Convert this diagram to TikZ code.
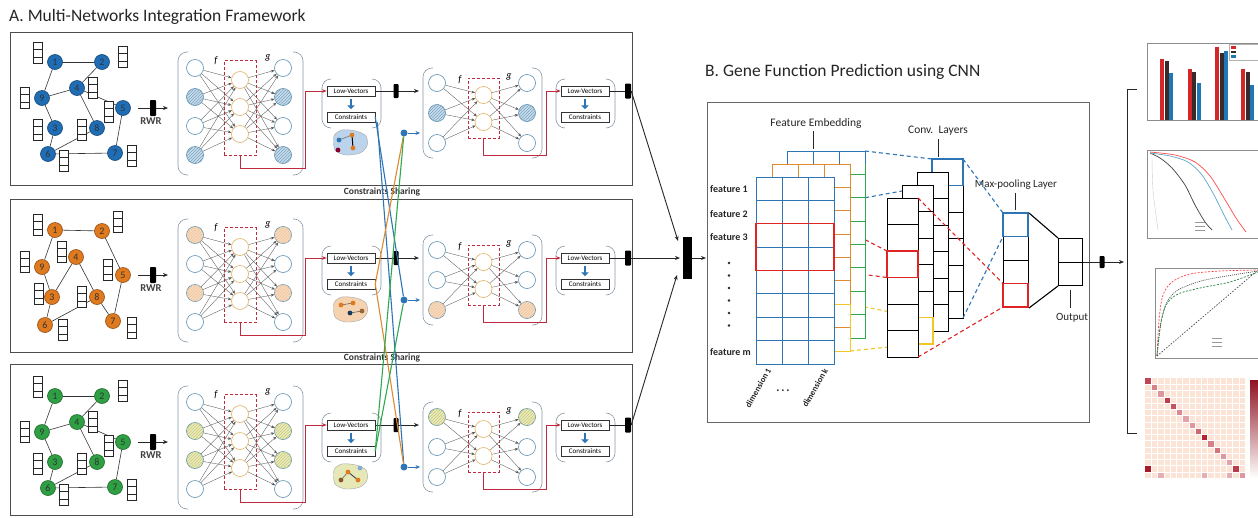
\documentclass[tikz,border=0pt]{standalone}
\usepackage{fontspec}
\setmainfont{Carlito}
\usetikzlibrary{arrows.meta,patterns}
\definecolor{nblue}{HTML}{1F6DB5}
\definecolor{norange}{HTML}{E07A1F}
\definecolor{ngreen}{HTML}{2EA043}
\definecolor{aeb}{HTML}{5A8FB0}
\definecolor{hido}{HTML}{E0B060}
\definecolor{dred}{HTML}{C02A3E}
\definecolor{parc}{HTML}{8A98A8}
\definecolor{cblue}{HTML}{2E75B6}
\definecolor{corange}{HTML}{E08A30}
\definecolor{cgreen}{HTML}{2FA84F}
\definecolor{cred}{HTML}{E02424}
\definecolor{cyellow}{HTML}{F2C624}
\definecolor{tintb}{HTML}{C9DCEB}
\definecolor{tinto}{HTML}{F7DCC0}
\definecolor{tintg}{HTML}{E9EAC6}
\definecolor{blobb}{HTML}{BCD3EC}
\definecolor{bloba}{HTML}{F5D2B0}
\definecolor{blobg}{HTML}{E6E8B8}
\definecolor{barred}{HTML}{D62728}
\definecolor{bardark}{HTML}{3B2A2A}
\definecolor{barblue}{HTML}{1F77B4}
\definecolor{hm}{HTML}{B2182B}
\definecolor{hmbg}{HTML}{FBE3D6}

\tikzset{
  gnode/.style={circle, minimum size=15pt, inner sep=0pt, line width=0.6pt, font=\fontsize{10}{10}\selectfont, text=black!80},
  vbx/.style={draw=black!85, line width=0.7pt, fill=white, minimum width=9pt, minimum height=21pt, inner sep=0pt},
  gedge/.style={black!80, line width=0.6pt},
  aew/.style={circle, draw=aeb, line width=0.6pt, fill=white, minimum size=17pt, inner sep=0pt},
  aehb/.style={aew, fill=tintb, postaction={pattern=north east lines, pattern color=aeb!80}},
  aeho/.style={aew, fill=tinto, postaction={pattern=north east lines, pattern color=norange!45}},
  aehg/.style={aew, fill=tintg, postaction={pattern=north east lines, pattern color=olive!40}},
  hid/.style={circle, draw=hido, line width=0.6pt, fill=white, minimum size=17pt, inner sep=0pt},
  hidrect/.style={draw=dred, dash pattern=on 3pt off 2pt, line width=0.9pt, inner sep=0pt},
  aearr/.style={black!65, line width=0.35pt, -{Stealth[length=3.5pt,width=2.8pt]}},
  paren/.style={parc, line width=0.6pt, rounded corners=9pt},
  redconn/.style={dred, line width=0.9pt, -{Stealth[length=4.5pt,width=3.5pt]}},
  lvbox/.style={draw=black!80, line width=0.5pt, fill=white, minimum width=48pt, minimum height=10pt, inner sep=0pt, font=\fontsize{7}{7}\selectfont},
  blk/.style={fill=black, minimum width=5pt, minimum height=14pt, inner sep=0pt, rounded corners=0.8pt},
  barr/.style={black!85, line width=0.9pt, -{Stealth[length=5pt,width=4pt]}},
  dotn/.style={circle, fill=cblue, minimum size=7pt, inner sep=0pt},
  lbl/.style={font=\fontsize{10}{10}\selectfont\itshape, inner sep=0pt},
  share/.style={line width=1.1pt},
  sharelbl/.style={font=\fontsize{9.5}{10}\selectfont\bfseries, text=black!80},
  frame/.style={draw=black!70, line width=0.9pt},
  dsh/.style={dash pattern=on 4pt off 3pt, line width=1.1pt},
  flbl/.style={font=\fontsize{10}{10}\selectfont\bfseries, text=black!85, anchor=west, inner sep=0pt},
  clbl/.style={font=\fontsize{11.5}{12}\selectfont, text=black!85},
  tickl/.style={black!85, line width=0.9pt},
  gridl/.style={line width=1pt},
  dimlbl/.style={font=\fontsize{8.5}{9}\selectfont\bfseries, text=black!85, rotate=60, anchor=east, inner sep=0pt},
}

\newcommand\vecb[3]{%
  \node[vbx] (#1) at (#2,#3) {};
  \draw[black!85, line width=0.5pt] ([yshift=-7pt]#1.north west) -- ([yshift=-7pt]#1.north east)
        ([yshift=7pt]#1.south west) -- ([yshift=7pt]#1.south east);}

\newcommand\AEfour[4]{%
\begin{scope}[shift={(0,#2)}]
  \draw[paren] (188,52) -- (178,52) -- (178,175) -- (188,175);
  \draw[paren] (293,52) -- (303,52) -- (303,175) -- (293,175);
  \node[hidrect, minimum width=32pt, minimum height=95pt] (#1hr) at (240,108) {};
  \foreach \yy/\st [count=\k] in {#3} \node[\st] (#1i\k) at (195,\yy) {};
  \foreach \yy/\st [count=\k] in {#4} \node[\st] (#1o\k) at (283,\yy) {};
  \foreach \yy [count=\k] in {80,107,134} \node[hid] (#1h\k) at (240,\yy) {};
  \foreach \ia in {1,...,4}{\foreach \ib in {1,2,3}{
     \draw[aearr] (#1i\ia) -- (#1h\ib);
     \draw[aearr] (#1h\ib) -- (#1o\ia);}}
  \node[lbl] (#1f) at (216,61) {f};
  \node[lbl] (#1g) at (268,58) {g};
  \coordinate (#1rc) at (305,168);
\end{scope}}

\newcommand\AEthree[4]{%
\begin{scope}[shift={(0,#2)}]
  \draw[paren] (433,68) -- (423,68) -- (423,158) -- (433,158);
  \draw[paren] (532,68) -- (542,68) -- (542,158) -- (532,158);
  \node[hidrect, minimum width=31pt, minimum height=60pt] (#1hr) at (483.5,108) {};
  \foreach \yy/\st [count=\k] in {#3} \node[\st] (#1i\k) at (437,\yy) {};
  \foreach \yy/\st [count=\k] in {#4} \node[\st] (#1o\k) at (527,\yy) {};
  \foreach \yy [count=\k] in {95,122} \node[hid] (#1h\k) at (483.5,\yy) {};
  \foreach \ia in {1,2,3}{\foreach \ib in {1,2}{
     \draw[aearr] (#1i\ia) -- (#1h\ib);
     \draw[aearr] (#1h\ib) -- (#1o\ia);}}
  \node[lbl] (#1f) at (460,80) {f};
  \node[lbl] (#1g) at (509,77) {g};
  \coordinate (#1rc) at (546,155);
\end{scope}}

\newcommand\LVgroup[3]{%
\begin{scope}[shift={(0,#2)}]
  \draw[paren] (#3-20,79) -- (#3-29,79) -- (#3-29,128) -- (#3-20,128);
  \draw[paren] (#3+21,79) -- (#3+30,79) -- (#3+30,128) -- (#3+21,128);
  \node[lvbox] (#1lv) at (#3,91) {Low-Vectors};
  \node[lvbox] (#1cs) at (#3,117) {Constraints};
  \draw[cblue, line width=2.8pt, -{Triangle[length=4pt,width=7.5pt]}] ([yshift=-2.5pt]#1lv.south) -- ([yshift=2.5pt]#1cs.north);
\end{scope}}

\newcommand\panelcore[8]{%
\begin{scope}[shift={(0,#2)}]
  \coordinate (#1r0) at (138,108);
  \coordinate (#1r1) at (168,108);
  \draw[barr] (#1r0) -- (#1r1);
  \node[blk, minimum width=6pt, minimum height=16pt] (#1rb) at (153,108) {};
  \node[font=\fontsize{10.5}{11}\selectfont\bfseries, text=black!75] (#1rl) at (151,121) {RWR};
  \coordinate (#1bin) at (419,91);
  \node[dotn] (#1dot) at (404,133) {};
  \coordinate (#1dotend) at (420,133);
  \draw[cblue, line width=0.9pt, -{Stealth[length=4.5pt,width=4pt]}] (#1dot.east) -- (#1dotend);
  \draw[fill=#7, draw=black!35, line width=0.4pt] plot[smooth cycle] coordinates {(334,136) (342,130) (356,131) (366,136) (367,146) (360,153) (346,155) (335,150)};
  #8
\end{scope}
\AEfour{#1a}{#2}{#3}{#4}
\LVgroup{#1p}{#2}{351}
\AEthree{#1b}{#2}{#5}{#6}
\LVgroup{#1q}{#2}{585}
\draw[redconn] (#1ahr.south) |- (#1arc) |- (#1plv.west);
\draw[redconn] (#1bhr.south) |- (#1brc) |- (#1qlv.west);
\draw[barr] (#1plv.east) -- (#1bin);
\node[blk] (#1pb) at (396,#2+91) {};
\node[blk, minimum width=6pt, minimum height=15pt] (#1out) at (628,#2+91) {};
\draw[black!85, line width=0.9pt] (#1qlv.east) -- (#1out.west);
}

\newcommand\netA[3]{%
\begin{scope}[shift={(0,#2)}]
\foreach \n/\px/\py in {1/55/62,2/102/62,4/77/88,9/42/98,5/123/108,3/55/128,8/97/128,6/48/154,7/115/153}
  \node[gnode, fill=#3, draw=#3!65!black] (#1n\n) at (\px,\py) {\n};
\foreach \ua/\ub in {1/2,1/9,2/4,9/4,4/5,4/8,5/7,9/3,3/6,6/8,6/7}
  \draw[gedge] (#1n\ua) -- (#1n\ub);
\foreach \k/\px/\py in {1/38/53,2/123/57,4/93/88,9/25/98,5/109/112,3/38/130,8/82/130,6/64/161,7/132/156}
  {\vecb{#1v\k}{\px}{\py}}
\end{scope}}

\newcommand\netB[3]{%
\begin{scope}[shift={(0,#2)}]
\foreach \n/\px/\py in {1/55/63,2/102/64,4/76/90,9/42/100,5/123/108,3/52/130,8/97/130,6/45/158,7/113/154}
  \node[gnode, fill=#3, draw=#3!65!black] (#1n\n) at (\px,\py) {\n};
\foreach \ua/\ub in {1/2,1/9,9/3,3/4,4/8,2/5,5/7,8/7,3/6,6/8}
  \draw[gedge] (#1n\ua) -- (#1n\ub);
\foreach \k/\px/\py in {1/38/58,2/118/55,4/62/85,9/25/95,5/108/103,3/39/127,8/82/130,6/63/163,7/132/161}
  {\vecb{#1v\k}{\px}{\py}}
\end{scope}}

\newcommand\fgrid[4]{%
  \node[draw=#3, gridl, fill=white, minimum width=78pt, minimum height=187pt, inner sep=0pt, anchor=north west] (#4) at (#1,#2) {};
  \foreach \c in {1,2} \draw[#3, gridl] (#1+26*\c,#2) -- (#1+26*\c,#2+187);
  \foreach \r in {1,...,7} \draw[#3, gridl] (#1,#2+23.375*\r) -- (#1+78,#2+23.375*\r);}

\newcommand\clayer[3]{%
  \node[draw=black, gridl, fill=white, minimum width=31pt, minimum height=159pt, inner sep=0pt, anchor=north west] (#3) at (#1,#2) {};
  \foreach \r in {1,...,5} \draw[black, gridl] (#1,#2+26.5*\r) -- (#1+31,#2+26.5*\r);}

\begin{document}
\begin{tikzpicture}[x=1pt,y=-1pt]
\fill[white] (0,0) rectangle (1258,517);
\useasboundingbox (0,0) rectangle (1258,517);

% ---------- Panel A ----------
\node[font=\fontsize{17.5}{18}\selectfont, anchor=west, inner sep=0pt, text=black!85] (titleA) at (9,17) {A. Multi-Networks Integration Framework};
\draw[frame] (10,32) rectangle (632,185);
\draw[frame] (10,199) rectangle (632,352);
\draw[frame] (10,364) rectangle (632,515);
\node[sharelbl] (cs1) at (382,192) {Constraints Sharing};
\node[sharelbl] (cs2) at (382,358) {Constraints Sharing};

\netA{ga}{0}{nblue}
\netB{gb}{167}{norange}
\netA{gc}{334}{ngreen}

\panelcore{pa}{0}{68/aew,97/aehb,126/aew,155/aehb}{68/aew,97/aehb,126/aew,155/aehb}{83/aew,113/aehb,143/aew}{83/aew,113/aehb,143/aew}{blobb}{%
  \draw[black!60, line width=0.5pt] (339,140) -- (352,135);
  \draw[black, line width=1pt] (352,135) -- (353,148);
  \fill[cblue] (339,140) circle (2.4);
  \fill[norange] (352,135) circle (2.4);
  \fill[norange] (353,148) circle (2.4);
  \fill[purple!70!black] (338,150) circle (2.4);}
\panelcore{pb}{167}{68/aeho,97/aew,126/aeho,155/aew}{68/aeho,97/aew,126/aeho,155/aew}{83/aew,113/aew,143/aeho}{83/aew,113/aew,143/aeho}{bloba}{%
  \draw[black!60, line width=0.6pt] (341,138) -- (353,136);
  \draw[black!60, line width=0.6pt] (350,146) -- (362,144);
  \fill[norange] (341,138) circle (2.4);
  \fill[norange] (353,136) circle (2.4);
  \fill[black!50!cblue] (350,146) circle (2.4);
  \fill[brown!80!black] (362,144) circle (2.4);}
\panelcore{pc}{334}{68/aew,97/aehg,126/aehg,155/aew}{68/aew,97/aehg,126/aehg,155/aew}{83/aehg,113/aew,143/aew}{83/aehg,113/aew,143/aew}{blobg}{%
  \draw[black!60, line width=0.6pt] (341,146) -- (348,138);
  \draw[black!70, line width=1pt] (348,138) -- (358,146);
  \fill[brown!70!black] (341,146) circle (2.4);
  \fill[norange] (348,138) circle (2.4);
  \fill[norange] (358,146) circle (2.4);
  \fill[cblue!60] (360,134) circle (2.4);}

% constraints sharing lines
\draw[share, cblue] ([xshift=2pt]papcs.south east) -- (pcdot);
\draw[share, cblue] (papcs.east) -- (pbdot);
\draw[share, corange] (pbpcs.east) -- (padot);
\draw[share, corange] (pbpcs.east) -- (pcdot);
\draw[share, cgreen] (pcpcs.east) -- (padot);
\draw[share, cgreen] (pcpcs.east) -- (pbdot);

% merge
\node[fill=black, minimum width=9pt, minimum height=42pt, inner sep=0pt] (merge) at (687.5,258) {};
\coordinate (m1) at (678,241);
\coordinate (m2) at (680,258);
\coordinate (m3) at (677,275);
\coordinate (mout) at (706,258);
\draw[barr] (paout.east) -- (m1);
\draw[barr] (pbout.east) -- (m2);
\draw[barr] (pcout.east) -- (m3);
\draw[barr] (merge.east) -- (mout);

% ---------- Panel B ----------
\node[font=\fontsize{17.5}{18}\selectfont, anchor=west, inner sep=0pt, text=black!85] (titleB) at (705,72) {B. Gene Function Prediction using CNN};
\node[draw=black!60, line width=0.8pt, minimum width=382pt, minimum height=320pt, anchor=north west, inner sep=0pt] (boxB) at (707,102) {};

\draw[dsh, cblue] (865,151) -- (932,159);
\draw[dsh, cblue] (865,197.75) -- (932,185.5);
\draw[dsh, cyellow] (850,304) -- (918,317.5);
\draw[dsh, cyellow] (850,351) -- (918,344);
\draw[dsh, cred] (834,223.75) -- (887,251);
\draw[dsh, cred] (834,270.5) -- (887,277.5);

\fgrid{787}{151}{cgreen}{gback}
\draw[cblue, gridl] (787,164) -- (787,151) -- (865,151) -- (865,164);
\draw[cblue, gridl] (813,151) -- (813,164) (839,151) -- (839,164);
\fgrid{772}{164}{corange}{gmid}
\draw[cyellow, gridl] (834,304) -- (850,304) -- (850,351) -- (834,351);
\fgrid{756}{177}{cblue}{gfront}
\draw[cred, line width=1.3pt] (756,223.75) rectangle (834,270.5);

\node[clbl] (fe) at (816,123) {Feature Embedding};
\draw[tickl] (813,131) -- (813,149);
\node[flbl] (f1) at (710,189) {feature 1};
\node[flbl] (f2) at (710,214) {feature 2};
\node[flbl] (f3) at (710,237) {feature 3};
\node[flbl] (fm) at (710,352) {feature m};
\foreach \yy in {263,275.5,288,300.5,313,325.5} \fill[black!85] (729,\yy) circle (1.3);
\node[dimlbl] (d1) at (769,369) {dimension 1};
\node[dimlbl] (dk) at (826,369) {dimension k};
\node[font=\fontsize{10}{10}\selectfont\bfseries, text=black!80, inner sep=0pt] (ddots) at (783,392) {· · ·};

\clayer{932}{159}{c4}
\draw[cblue, line width=1.3pt] (932,159) rectangle (963,185.5);
\clayer{917}{172}{c3}
\clayer{902}{185}{c2}
\draw[cyellow, line width=1.3pt] (918,317.5) -- (933,317.5) -- (933,344) -- (918,344);
\clayer{887}{198}{c1}
\draw[cred, line width=1.3pt] (887,251) rectangle (918,277.5);
\node[clbl] (cl) at (938,131) {Conv.\ \ Layers};
\draw[tickl] (938,139) -- (938,157);

\node[draw=black, gridl, fill=white, minimum width=25pt, minimum height=94pt, inner sep=0pt, anchor=north west] (mp) at (1003,213) {};
\foreach \r in {1,2,3} \draw[black, gridl] (1003,213+23.5*\r) -- (1028,213+23.5*\r);
\draw[cblue, line width=1.3pt] (1003,213) rectangle (1028,236.5);
\draw[cred, line width=1.3pt] (1003,283.5) rectangle (1028,307);
\node[clbl, font=\fontsize{11}{11}\selectfont] (mpl) at (1016,185) {Max-pooling Layer};
\draw[tickl] (1015,193) -- (1015,210);

\node[draw=black, gridl, fill=white, minimum width=24pt, minimum height=47pt, inner sep=0pt, anchor=north west] (outb) at (1058,238) {};
\draw[black, gridl] (outb.west) -- (outb.east);
\draw[black, line width=1.1pt] (mp.north east) -- (outb.north west);
\draw[black, line width=1.1pt] (mp.south east) -- (outb.south west);
\node[clbl, font=\fontsize{11}{11}\selectfont] (outl) at (1072,318) {Output};
\draw[tickl] (1070,290) -- (1070,308);

\draw[dsh, cblue] (963,159) -- (1003,213);
\draw[dsh, cblue] (963,318) -- (1003,236.5);
\draw[dsh, cred] (918,198) -- (1003,283.5);
\draw[dsh, cred] (918,357) -- (1003,307);

% output to plots
\coordinate (pin) at (1124,262);
\draw[barr] (outb.east) -- (pin);
\node[blk, minimum height=12pt] (ob) at (1102,262) {};
\draw[black!85, line width=1pt] (1137,89) -- (1127,89) -- (1127,433) -- (1137,433);

% bar chart
\draw[black!45, line width=0.4pt] (1147,43) rectangle (1262,120);
\foreach \xx/\hh/\cc in {1162/59/barred,1167/61/bardark,1171/73/barblue,1190/69/barred,1194/72/bardark,1199/83/barblue,1217/47/barred,1222/53/bardark,1226/51/barblue,1243/69/barred,1248/72/bardark,1252/85/barblue}
  \fill[\cc] (\xx-2.2,120) rectangle (\xx+2.2,\hh);
\draw[black!30, line width=0.3pt, fill=white] (1229,44) rectangle (1262,60);
\fill[barred] (1231,46) rectangle (1236,48.5);
\fill[bardark] (1231,50.5) rectangle (1236,53);
\fill[barblue] (1231,55) rectangle (1236,57.5);

% survival plot
\draw[black!45, line width=0.4pt] (1147,150) rectangle (1262,238);
\draw[black!20, line width=0.4pt] plot[smooth] coordinates {(1152,158) (1153,190) (1158,230)};
\draw[black!75, line width=0.7pt] plot[smooth] coordinates {(1150,153) (1160,158) (1172,168) (1185,185) (1195,205) (1205,222) (1212,230)};
\draw[cyan!55!gray, line width=0.7pt] plot[smooth] coordinates {(1150,153) (1170,156) (1188,162) (1202,175) (1214,195) (1224,215) (1232,230)};
\draw[red!70, line width=0.7pt] plot[smooth] coordinates {(1150,152) (1175,155) (1195,162) (1210,176) (1224,198) (1236,218) (1246,232)};
\draw[black!40, line width=0.3pt] (1195,222) -- (1205,222) (1195,226) -- (1205,226) (1195,230) -- (1205,230);

% ROC plot
\draw[black!45, line width=0.4pt] (1155,268) rectangle (1262,358);
\draw[black!70, dash pattern=on 1.5pt off 1.5pt, line width=0.7pt] (1157,356) -- (1258,270);
\draw[red!75, dash pattern=on 2pt off 1.5pt, line width=0.7pt] plot[smooth] coordinates {(1157,356) (1159,320) (1163,295) (1172,282) (1190,274) (1220,271) (1258,270)};
\draw[black!70, dash pattern=on 1pt off 1pt, line width=0.7pt] plot[smooth] coordinates {(1157,356) (1161,322) (1167,302) (1178,290) (1205,280) (1258,271)};
\draw[cgreen!80!black, dash pattern=on 2pt off 1.5pt, line width=0.7pt] plot[smooth] coordinates {(1157,356) (1160,328) (1166,305) (1178,294) (1200,288) (1230,282) (1258,272)};
\draw[black!40, line width=0.3pt] (1212,338) -- (1222,338) (1212,342) -- (1222,342) (1212,346) -- (1222,346);

% heatmap
\fill[hmbg] (1145,378) rectangle (1245,478);
\foreach \i/\v in {0/80,1/55,2/45,3/85,4/75,5/50,6/40,7/45,8/65,9/95,10/55,11/60,12/45,13/40,14/85,15/45}
  \fill[hm!\v!white] (1145+\i*6.25,378+\i*6.25) rectangle ++(6.25,6.25);
\fill[hm!95!black] (1145,465.5) rectangle ++(6.25,6.25);
\foreach \i in {2,9,13} \fill[hm!35!white] (1145+\i*6.25,471.75) rectangle ++(6.25,6.25);
\foreach \i in {1,...,15} {\draw[white, line width=0.3pt] (1145+\i*6.25,378) -- ++(0,100);
  \draw[white, line width=0.3pt] (1145,378+\i*6.25) -- ++(100,0);}
\shade[top color=hm!80!black, bottom color=white] (1250,380) rectangle (1258,478);
\end{tikzpicture}
\end{document}
